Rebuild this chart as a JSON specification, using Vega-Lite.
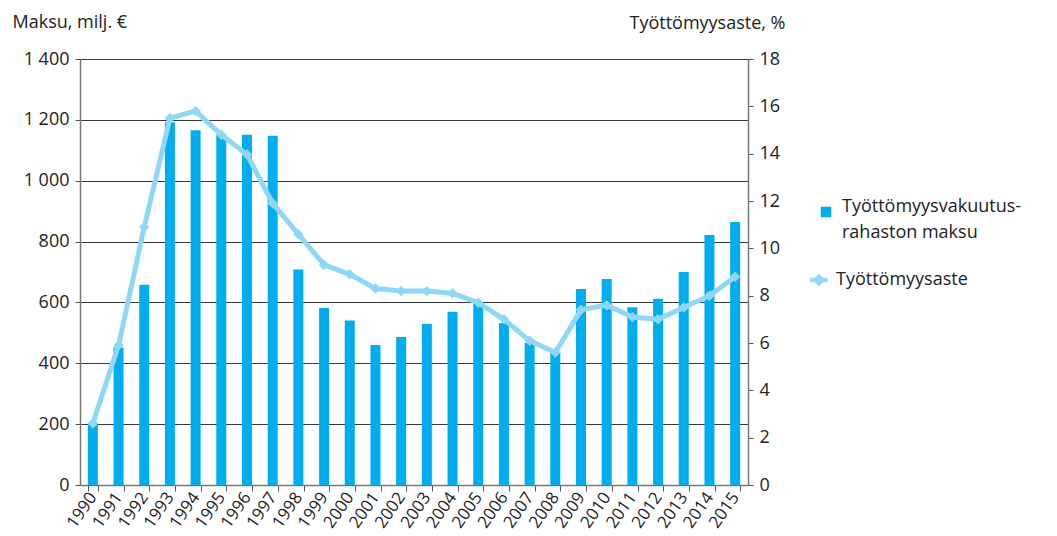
{
  "$schema": "https://vega.github.io/schema/vega-lite/v6.json",
  "width": 668,
  "height": 426,
  "autosize": {"type": "none"},
  "padding": {"left": 80, "top": 59, "right": 309, "bottom": 51},
  "background": "white",
  "config": {
    "font": "Open Sans",
    "view": {"stroke": null},
    "style": {"guide-label": {"lineHeight": 26}},
    "axis": {"labelFont": "Open Sans", "titleFont": "Open Sans", "labelColor": "#222", "titleColor": "#222", "titleFontWeight": "normal"}
  },
  "data": {
    "values": [
      {"year": "1990", "maksu": 205, "aste": 2.6},
      {"year": "1991", "maksu": 452, "aste": 5.9},
      {"year": "1992", "maksu": 658, "aste": 10.9},
      {"year": "1993", "maksu": 1192, "aste": 15.5},
      {"year": "1994", "maksu": 1166, "aste": 15.8},
      {"year": "1995", "maksu": 1150, "aste": 14.8},
      {"year": "1996", "maksu": 1151, "aste": 13.96},
      {"year": "1997", "maksu": 1148, "aste": 11.9},
      {"year": "1998", "maksu": 708, "aste": 10.6},
      {"year": "1999", "maksu": 582, "aste": 9.3},
      {"year": "2000", "maksu": 541, "aste": 8.9},
      {"year": "2001", "maksu": 460, "aste": 8.3},
      {"year": "2002", "maksu": 486, "aste": 8.2},
      {"year": "2003", "maksu": 530, "aste": 8.2},
      {"year": "2004", "maksu": 569, "aste": 8.1},
      {"year": "2005", "maksu": 595, "aste": 7.7},
      {"year": "2006", "maksu": 532, "aste": 7.0},
      {"year": "2007", "maksu": 467, "aste": 6.1},
      {"year": "2008", "maksu": 438, "aste": 5.6},
      {"year": "2009", "maksu": 644, "aste": 7.4},
      {"year": "2010", "maksu": 677, "aste": 7.6},
      {"year": "2011", "maksu": 584, "aste": 7.1},
      {"year": "2012", "maksu": 612, "aste": 7.0},
      {"year": "2013", "maksu": 700, "aste": 7.5},
      {"year": "2014", "maksu": 822, "aste": 8.0},
      {"year": "2015", "maksu": 864, "aste": 8.8}
    ]
  },
  "encoding": {
    "x": {
      "field": "year",
      "type": "ordinal",
      "scale": {"paddingInner": 0.6, "paddingOuter": 0.3},
      "axis": {
        "title": null,
        "labelAngle": -55,
        "labelAlign": "right",
        "labelBaseline": "middle",
        "labelFontSize": 17,
        "labelPadding": 3,
        "tickBand": "extent",
        "tickColor": "#555",
        "tickSize": 6,
        "domainColor": "#777",
        "domainWidth": 1.5,
        "grid": false
      }
    }
  },
  "layer": [
    {
      "mark": {"type": "bar", "size": 10},
      "encoding": {
        "y": {
          "field": "maksu",
          "type": "quantitative",
          "scale": {"domain": [0, 1400]},
          "axis": {
            "values": [0, 200, 400, 600, 800, 1000, 1200, 1400],
            "labelExpr": "replace(format(datum.value, ','), ',', ' ')",
            "labelFontSize": 18,
            "labelPadding": 6,
            "grid": true,
            "gridColor": "#3a3a3a",
            "gridWidth": 1.2,
            "tickColor": "#555",
            "tickSize": 5,
            "domainColor": "#777",
            "domainWidth": 1.5,
            "title": "Maksu, milj. €",
            "titleFontSize": 18,
            "titleAngle": 0,
            "titleAlign": "left",
            "titleBaseline": "middle",
            "titleX": -68,
            "titleY": -37
          }
        },
        "fill": {
          "datum": "Työttömyysvakuutus-rahaston maksu",
          "scale": {"range": ["#00aeef"]},
          "legend": {
            "title": null,
            "orient": "none",
            "legendX": 737,
            "legendY": 144,
            "symbolType": "square",
            "symbolSize": 110,
            "labelFontSize": 18,
            "labelLimit": 300,
            "labelColor": "#222",
            "labelBaseline": "alphabetic",
            "labelOffset": 7,
            "labelExpr": "['Työttömyysvakuutus-', 'rahaston maksu']"
          }
        }
      }
    },
    {
      "layer": [
        {
          "mark": {"type": "line", "strokeWidth": 5, "color": "#8fd7f6"},
          "encoding": {
            "y": {
              "field": "aste",
              "type": "quantitative",
              "scale": {"domain": [0, 18]},
              "axis": {
                "orient": "right",
                "values": [0, 2, 4, 6, 8, 10, 12, 14, 16, 18],
                "labelFontSize": 18,
                "labelPadding": 6,
                "grid": false,
                "tickColor": "#555",
                "tickSize": 5,
                "domainColor": "#777",
                "domainWidth": 1.5,
                "title": "Työttömyysaste, %",
                "titleFontSize": 18,
                "titleAngle": 0,
                "titleAlign": "right",
                "titleBaseline": "middle",
                "titleX": 37,
                "titleY": -36
              }
            },
            "stroke": {
              "datum": "Työttömyysaste",
              "scale": {"range": ["#8fd7f6"]},
              "legend": {
                "title": null,
                "orient": "none",
                "legendX": 728,
                "legendY": 210,
                "symbolType": "M-1,0H1M-0.35,0L0,-0.35L0.35,0L0,0.35Z",
                "symbolSize": 300,
                "symbolStrokeWidth": 4.5,
                "symbolFillColor": "#8fd7f6",
                "labelFontSize": 18,
                "labelColor": "#222",
                "labelOffset": 6
              }
            }
          }
        },
        {
          "mark": {"type": "point", "shape": "diamond", "filled": true, "size": 110, "color": "#8fd7f6", "opacity": 1},
          "encoding": {
            "y": {"field": "aste", "type": "quantitative"}
          }
        }
      ]
    }
  ],
  "resolve": {"scale": {"y": "independent", "fill": "independent", "stroke": "independent"}}
}
